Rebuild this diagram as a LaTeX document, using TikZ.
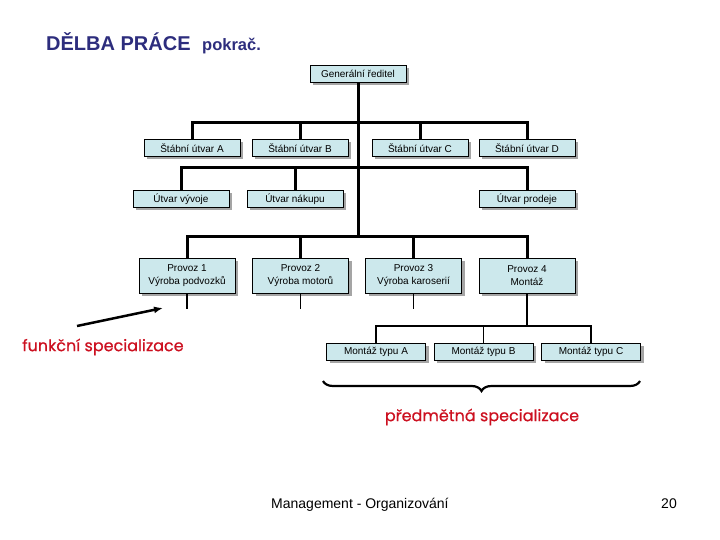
\documentclass[tikz,border=0pt]{standalone}
\usepackage{fontspec}
\setmainfont{Liberation Sans}
\newfontfamily\notefont[FakeBold=0.6]{Poppins}
\usetikzlibrary{positioning,arrows.meta,shadows,decorations.pathreplacing}
\definecolor{TitleNavy}{RGB}{45,45,125}
\definecolor{BoxCyan}{RGB}{204,232,236}
\definecolor{ShadowGray}{RGB}{165,165,165}
\definecolor{NoteRed}{RGB}{204,16,32}

\begin{document}
\begin{tikzpicture}[x=1pt,y=-1pt,
    unit/.style={draw=black,line width=0.8pt,fill=BoxCyan,inner sep=1pt,
      minimum width=96pt,minimum height=17pt,align=center,
      font=\fontsize{10}{12.5}\selectfont,
      drop shadow={shadow xshift=3pt,shadow yshift=-3pt,fill=ShadowGray,opacity=1}},
    tree/.style={line width=3pt},
    stub/.style={line width=1.6pt},
    note/.style={text=NoteRed,font=\notefont\fontsize{16}{19}\selectfont}]
  \useasboundingbox (0,0) rectangle (720,540);

  % title
  \node[anchor=base west,inner sep=0pt,text=TitleNavy,
        font=\bfseries\fontsize{20}{24}\selectfont] (title) at (46,51) {DĚLBA PRÁCE};
  \node[anchor=base west,inner sep=0pt,text=TitleNavy,
        font=\bfseries\fontsize{16.5}{19}\selectfont] (cont) at (202,51) {pokrač.};

  % chart
  \node[unit] (gr) at (358,74) {Generální ředitel};
  \node[unit] (stA) at (192,148) {Štábní útvar A};
  \node[unit] (stB) at (300,148) {Štábní útvar B};
  \node[unit] (stC) at (420,148) {Štábní útvar C};
  \node[unit] (stD) at (527,148) {Štábní útvar D};
  \node[unit] (uv) at (181,199) {Útvar vývoje};
  \node[unit] (un) at (295,199) {Útvar nákupu};
  \node[unit] (up) at (527,199) {Útvar prodeje};
  \node[unit,minimum height=35pt] (pv1) at (187,275.5) {Provoz 1\\Výroba podvozků};
  \node[unit,minimum height=35pt] (pv2) at (300.5,275.5) {Provoz 2\\Výroba motorů};
  \node[unit,minimum height=35pt] (pv3) at (413.5,275.5) {Provoz 3\\Výroba karoserií};
  \node[unit,minimum height=35pt] (pv4) at (527,275.5) {Provoz 4\\Montáž};
  \node[unit,minimum width=99pt] (mtA) at (376,351.5) {Montáž typu A};
  \node[unit,minimum width=99pt] (mtB) at (483.5,351.5) {Montáž typu B};
  \node[unit,minimum width=99pt] (mtC) at (591,351.5) {Montáž typu C};

  \coordinate (bus1) at (0,123);
  \coordinate (bus2) at (0,168);
  \coordinate (bus3) at (0,236);
  \coordinate (bus4) at (0,326);
  \coordinate (stubend) at (0,309);

  \draw[tree] (gr.south) -- (gr.south |- bus3);
  \draw[tree] (stA.north) -- (stA.north |- bus1) -| (stD.north);
  \foreach \n in {stB,stC}
    \draw[tree] (\n.north) -- (\n.north |- bus1);
  \draw[tree] (uv.north) -- (uv.north |- bus2) -| (up.north);
  \draw[tree] (un.north) -- (un.north |- bus2);
  \draw[tree] (pv1.north) -- (pv1.north |- bus3) -| (pv4.north);
  \foreach \n in {pv2,pv3}
    \draw[tree] (\n.north) -- (\n.north |- bus3);
  \foreach \n in {pv1,pv2,pv3}
    \draw[stub] (\n.south) -- (\n.south |- stubend);
  \draw[stub] (pv4.south) -- (pv4.south |- bus4);
  \draw[stub] (mtA.north) -- (mtA.north |- bus4) -| (mtC.north);
  \draw[stub] (mtB.north) -- (mtB.north |- bus4);

  % labels
  \draw[line width=2.2pt,decorate,decoration={brace,amplitude=10pt,mirror}]
    (323,381) -- (640,381);
  \node[note] (pred) at (482,417) {předmětná specializace};
  \node[note] (funk) at (103,347) {funkční specializace};
  \coordinate (fa) at (77,326);
  \coordinate (fb) at (163,308);
  \draw[-{Latex[length=9pt,width=7pt]},line width=2.5pt] (fa) -- (fb);

  % footer
  \node[anchor=base west,inner sep=0pt,font=\fontsize{14}{16}\selectfont] (foot) at (271,508) {Management - Organizování};
  \node[anchor=base east,inner sep=0pt,font=\fontsize{14}{16}\selectfont] (page) at (677,508) {20};
\end{tikzpicture}
\end{document}
